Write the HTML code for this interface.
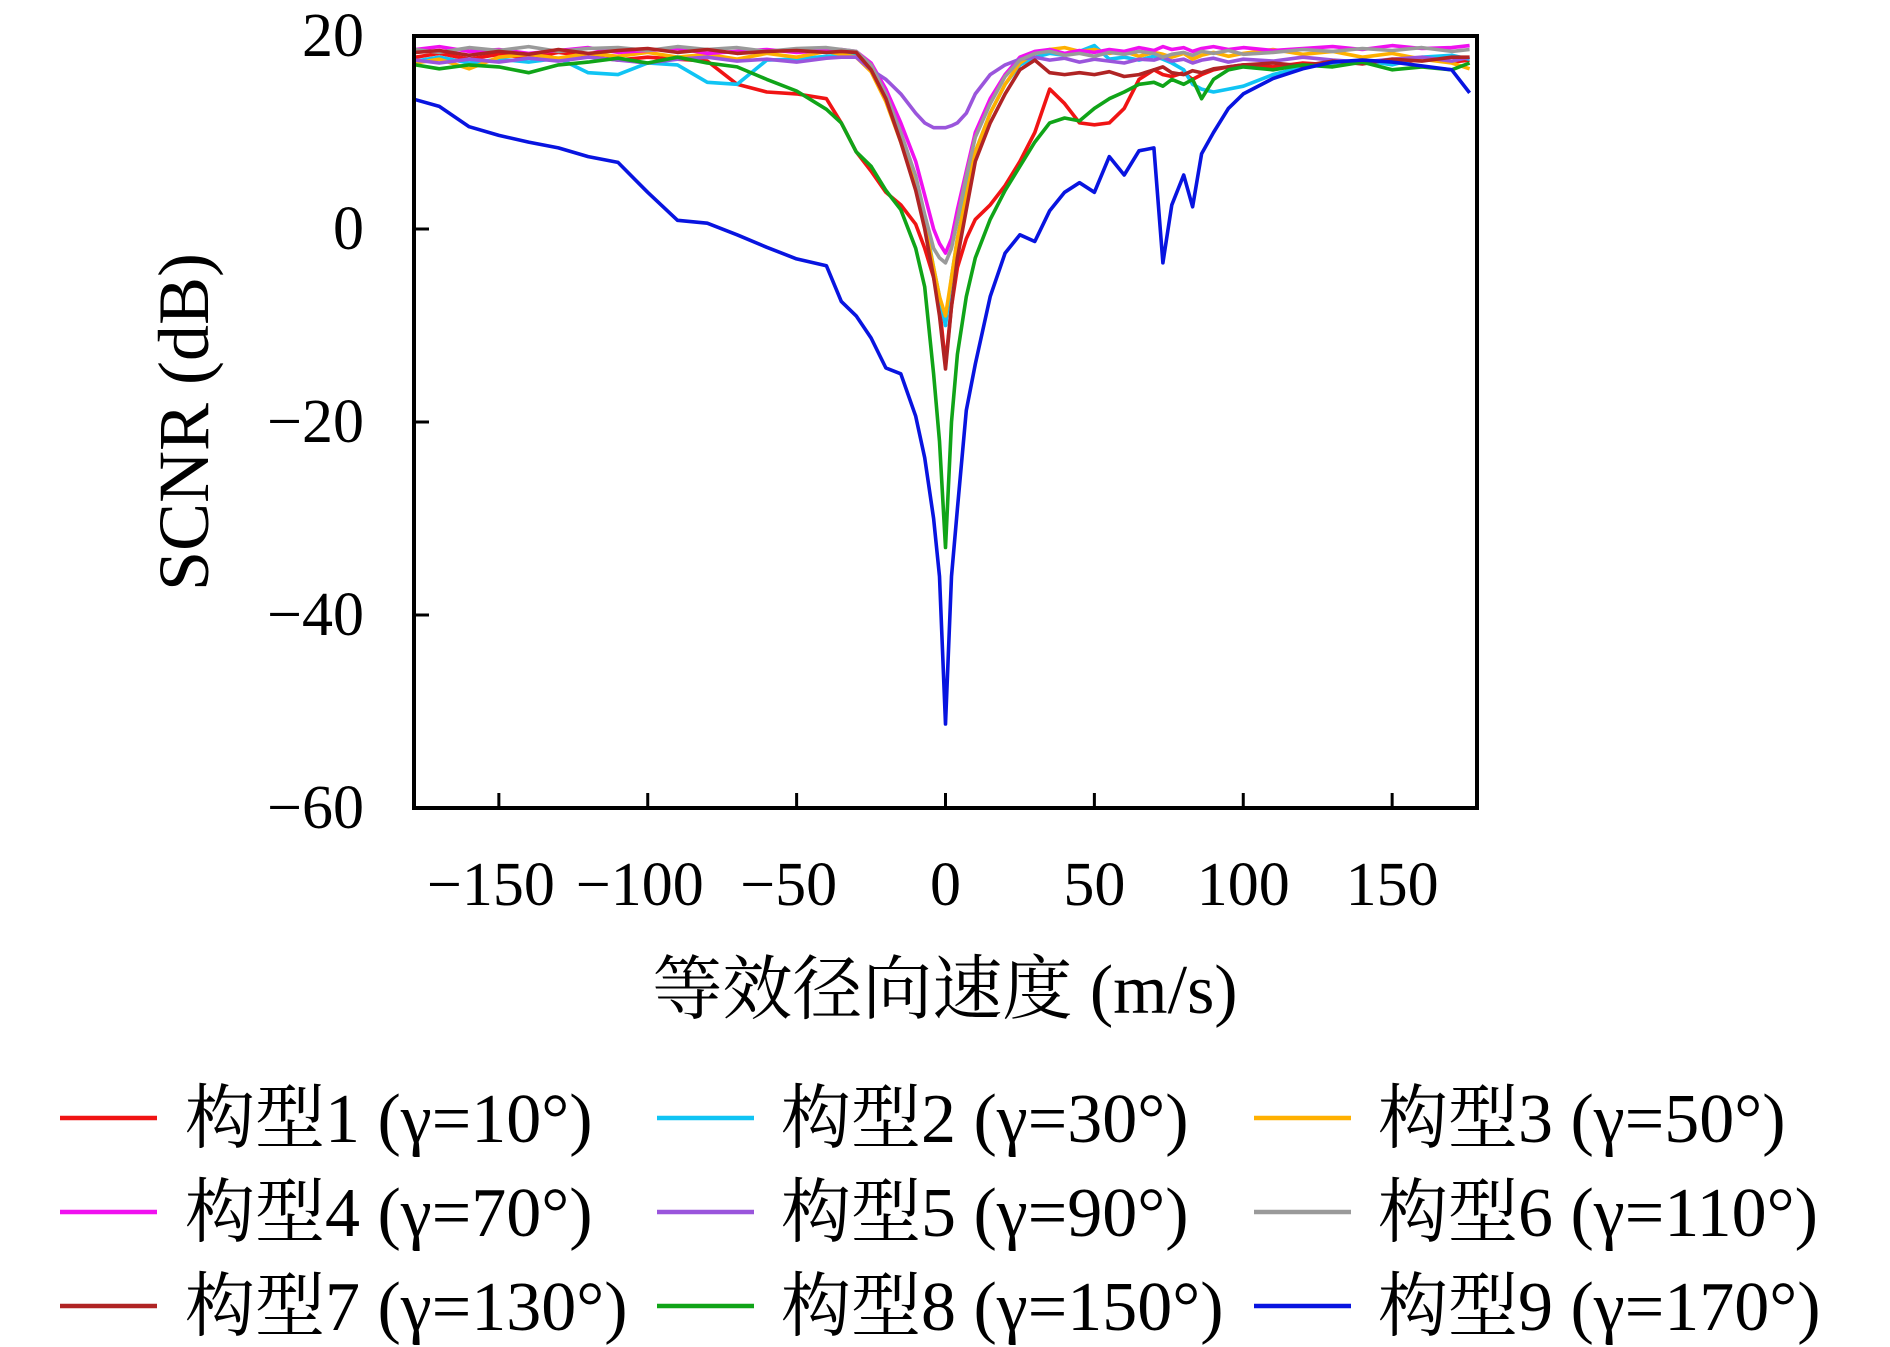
<!DOCTYPE html>
<html><head><meta charset="utf-8"><style>
html,body{margin:0;padding:0;background:#fff;}
svg{display:block;}
text{font-family:"Liberation Serif","Noto Serif CJK SC",serif;fill:#000;}
</style></head><body>
<svg id="chart" width="1890" height="1347" viewBox="0 0 1890 1347" xmlns="http://www.w3.org/2000/svg">
<g id="plot"></g>
<g id="axes"></g>
<g id="legend"></g>
</svg>
<script>
const xs=[-178,-170,-160,-150,-140,-130,-120,-110,-100,-90,-80,-70,-60,-50,-40,-35,-30,-25,-20,-15,-10,-7,-4,-2,0,2,4,7,10,15,20,25,30,35,40,45,50,55,60,65,70,73,76,80,83,86,90,95,100,110,120,130,140,150,160,170,176];
const s1=[17.8,18.2,17.6,18.1,17.7,18.3,17.9,17.5,17.8,17.6,17.4,15.0,14.2,14.0,13.5,11.0,8.0,6.0,3.8,2.5,0.5,-2,-5,-8,-14,-8,-4,-1,1,2.5,4.5,7,10,14.5,13,11,10.8,11,12.5,15.5,16.5,16,15.8,16.2,15.5,16,16.5,16.8,17,16.8,17.2,17,17.4,17.1,17.6,17.3,17.5];
const s2=[17.4,17.8,17.2,17.6,17.3,17.7,16.2,16.0,17.2,17.0,15.2,15.0,17.5,17.6,17.9,18,18,16.5,13.5,9.5,5,1,-4,-7,-10,-5,-1,4,8,12,15,17,17.8,18.2,18,18.4,19,17.6,17.8,17.5,17.9,17.6,17.2,16.5,15,14.5,14.2,14.5,14.8,16,16.8,17.2,17.5,17,17.8,18,17.6];
const s3=[17.2,17.6,16.6,17.8,18.1,17.7,18.2,17.9,18.3,17.8,18.1,17.6,18.2,17.8,18.4,18.1,17.8,16.3,13.2,9,4.5,0.5,-4,-7,-9,-5,-1,3.5,8,12,15,17.2,18.2,18.6,18.8,18.4,18.6,18.2,18.4,17.9,18.3,18.1,17.8,18.2,17.6,18,18.3,17.9,18.2,18.6,18.1,18.4,17.8,18.2,17.6,17.2,16.6];
const s4=[18.6,18.9,18.4,18.6,18.2,18.5,18.8,18.3,18.5,18.7,18.2,18.4,18.6,18.3,18.5,18.6,18.4,17.2,14.5,11,7,3.5,0,-1.5,-2.5,-1,2,6,10,13.5,16,17.8,18.4,18.6,18.2,18.5,18.3,18.6,18.4,18.8,18.5,18.9,18.6,18.8,18.4,18.7,18.9,18.6,18.8,18.5,18.7,18.9,18.6,19,18.7,18.8,19];
const s5=[17.5,17.2,17.6,17.3,17.7,17.4,17.8,17.5,17.2,17.6,17.8,17.4,17.6,17.3,17.7,17.8,17.8,16.5,15.5,14,12,11,10.5,10.5,10.5,10.7,11,12,14,16,17,17.6,17.8,17.5,17.7,17.3,17.6,17.4,17.2,17.6,17.5,17.8,17.4,17.6,17.2,17.5,17.7,17.3,17.6,17.4,17.8,17.5,17.3,17.6,17.8,17.4,17.8];
const s6=[18.6,18.3,18.8,18.5,18.9,18.4,18.7,18.8,18.5,18.9,18.6,18.8,18.4,18.7,18.8,18.6,18.4,17,14,10,5.5,1.5,-2,-3,-3.5,-2,1,5.5,9.5,13,15.8,17.5,18.2,18.4,18,18.2,17.9,18.3,18.1,18.4,18.2,17.8,18.1,18.3,18,18.4,18.2,18.5,18.1,18.3,18.6,18.4,18.7,18.5,18.8,18.4,18.6];
const s7=[18.3,18.5,18.0,18.4,18.1,18.6,18.2,18.5,18.7,18.3,18.6,18.2,18.4,18.5,18.3,18.4,18.3,16.5,13.5,9,4,0,-5,-9,-14.5,-8,-3,2,7,11,14,16.5,17.5,16.2,16,16.2,16,16.3,15.8,16,16.5,16.8,16.2,16,16.4,16.2,16.6,16.8,17,17.2,16.9,17.4,17.1,17.6,17.4,17.8,17.8];
const s8=[17,16.6,17,16.8,16.2,17,17.3,17.7,17.2,17.8,17.2,16.8,15.5,14.3,12.4,11,8,6.5,4,2,-2,-6,-15,-22,-33,-20,-13,-7,-3,1,4,6.5,9,11,11.5,11.2,12.5,13.5,14.2,15,15.2,14.8,15.5,15,15.5,13.5,15.5,16.5,16.8,16.5,17,16.8,17.3,16.5,16.8,16.5,17.2];
const s9=[13.4,12.7,10.6,9.7,9,8.4,7.5,6.9,3.8,0.9,0.6,-0.6,-1.9,-3.1,-3.8,-7.5,-9,-11.3,-14.4,-15,-19.4,-23.7,-30,-36,-51.3,-36,-29,-18.8,-14,-7,-2.5,-0.6,-1.3,1.9,3.8,4.8,3.8,7.5,5.6,8.1,8.4,-3.5,2.5,5.6,2.3,7.8,10,12.5,14,15.6,16.6,17.3,17.5,17.3,16.9,16.5,14.1];
const seriesLabels=["构型1 (γ=10°)","构型2 (γ=30°)","构型3 (γ=50°)","构型4 (γ=70°)","构型5 (γ=90°)","构型6 (γ=110°)","构型7 (γ=130°)","构型8 (γ=150°)","构型9 (γ=170°)"];
const xTicks=[-150,-100,-50,0,50,100,150];
const yTicks=[20,0,-20,-40,-60];
const colors=["#f01414","#10c4f4","#ffb000","#f010f0","#9a55dc","#9a9a9a","#b02424","#10a418","#0814e0"];
const series=[s1,s2,s3,s4,s5,s6,s7,s8,s9];
const L=414,R=1477,T=36,B=808,XMIN=-178.5,XMAX=178.5,YMIN=-60,YMAX=20;
const X=v=>L+(v-XMIN)/(XMAX-XMIN)*(R-L);
const Y=v=>B-(v-YMIN)/(YMAX-YMIN)*(B-T);
const NS="http://www.w3.org/2000/svg";
function mk(tag,parent){const e=document.createElementNS(NS,tag);parent.appendChild(e);return e;}
const plot=document.getElementById('plot'),axes=document.getElementById('axes'),legend=document.getElementById('legend');
series.forEach((s,i)=>{
  const p=mk('polyline',plot);
  
  
  p.setAttribute('points',s.map((v,j)=>X(xs[j]).toFixed(1)+','+Y(v).toFixed(1)).join(' '));
  p.setAttribute('fill','none');p.setAttribute('stroke',colors[i]);p.setAttribute('stroke-width','3.6');p.setAttribute('stroke-linejoin','round');
});
const fr=mk('rect',axes);


fr.setAttribute('x',L);fr.setAttribute('y',T);fr.setAttribute('width',R-L);fr.setAttribute('height',B-T);fr.setAttribute('fill','none');fr.setAttribute('stroke','#000');fr.setAttribute('stroke-width','4');
xTicks.forEach(v=>{
  const t=mk('line',axes);
  
  
  t.setAttribute('x1',X(v));t.setAttribute('x2',X(v));t.setAttribute('y1',B);t.setAttribute('y2',B-15);t.setAttribute('stroke','#000');t.setAttribute('stroke-width','3');
  const l=mk('text',axes);
  
  
  l.setAttribute('x',X(v)-(v<0?8:0));l.setAttribute('y',905);l.setAttribute('text-anchor','middle');l.setAttribute('font-size','62');
  l.textContent=(v<0?'\u2212':'')+Math.abs(v);
});
yTicks.forEach(v=>{
  const t=mk('line',axes);
  
  
  t.setAttribute('x1',L);t.setAttribute('x2',L+15);t.setAttribute('y1',Y(v));t.setAttribute('y2',Y(v));t.setAttribute('stroke','#000');t.setAttribute('stroke-width','3');
  const l=mk('text',axes);
  
  
  l.setAttribute('x',364);l.setAttribute('y',Y(v)+20);l.setAttribute('text-anchor','end');l.setAttribute('font-size','62');
  l.textContent=(v<0?'\u2212':'')+Math.abs(v);
});
const yt=mk('text',axes);


yt.setAttribute('transform','translate(208,422) rotate(-90)');yt.setAttribute('text-anchor','middle');yt.setAttribute('font-size','72');
yt.textContent='SCNR (dB)';
const xt=mk('text',axes);


xt.setAttribute('x',945);xt.setAttribute('y',1013);xt.setAttribute('text-anchor','middle');xt.setAttribute('font-size','70');
xt.textContent='等效径向速度 (m/s)';
const colLine=[60,657,1254],colText=[185,781,1378],rowY=[1118,1212,1306];
seriesLabels.forEach((lab,i)=>{
  const c=i%3,r=Math.floor(i/3);
  const g=mk('g',legend);
  
  
  const ln=mk('line',g);
  
  
  ln.setAttribute('x1',colLine[c]);ln.setAttribute('x2',colLine[c]+97);ln.setAttribute('y1',rowY[r]);ln.setAttribute('y2',rowY[r]);ln.setAttribute('stroke',colors[i]);ln.setAttribute('stroke-width','4.5');
  const tx=mk('text',g);
  
  
  tx.setAttribute('x',colText[c]);tx.setAttribute('y',rowY[r]+24);tx.setAttribute('font-size','70');
  tx.textContent=lab;
});
</script>
</body></html>
